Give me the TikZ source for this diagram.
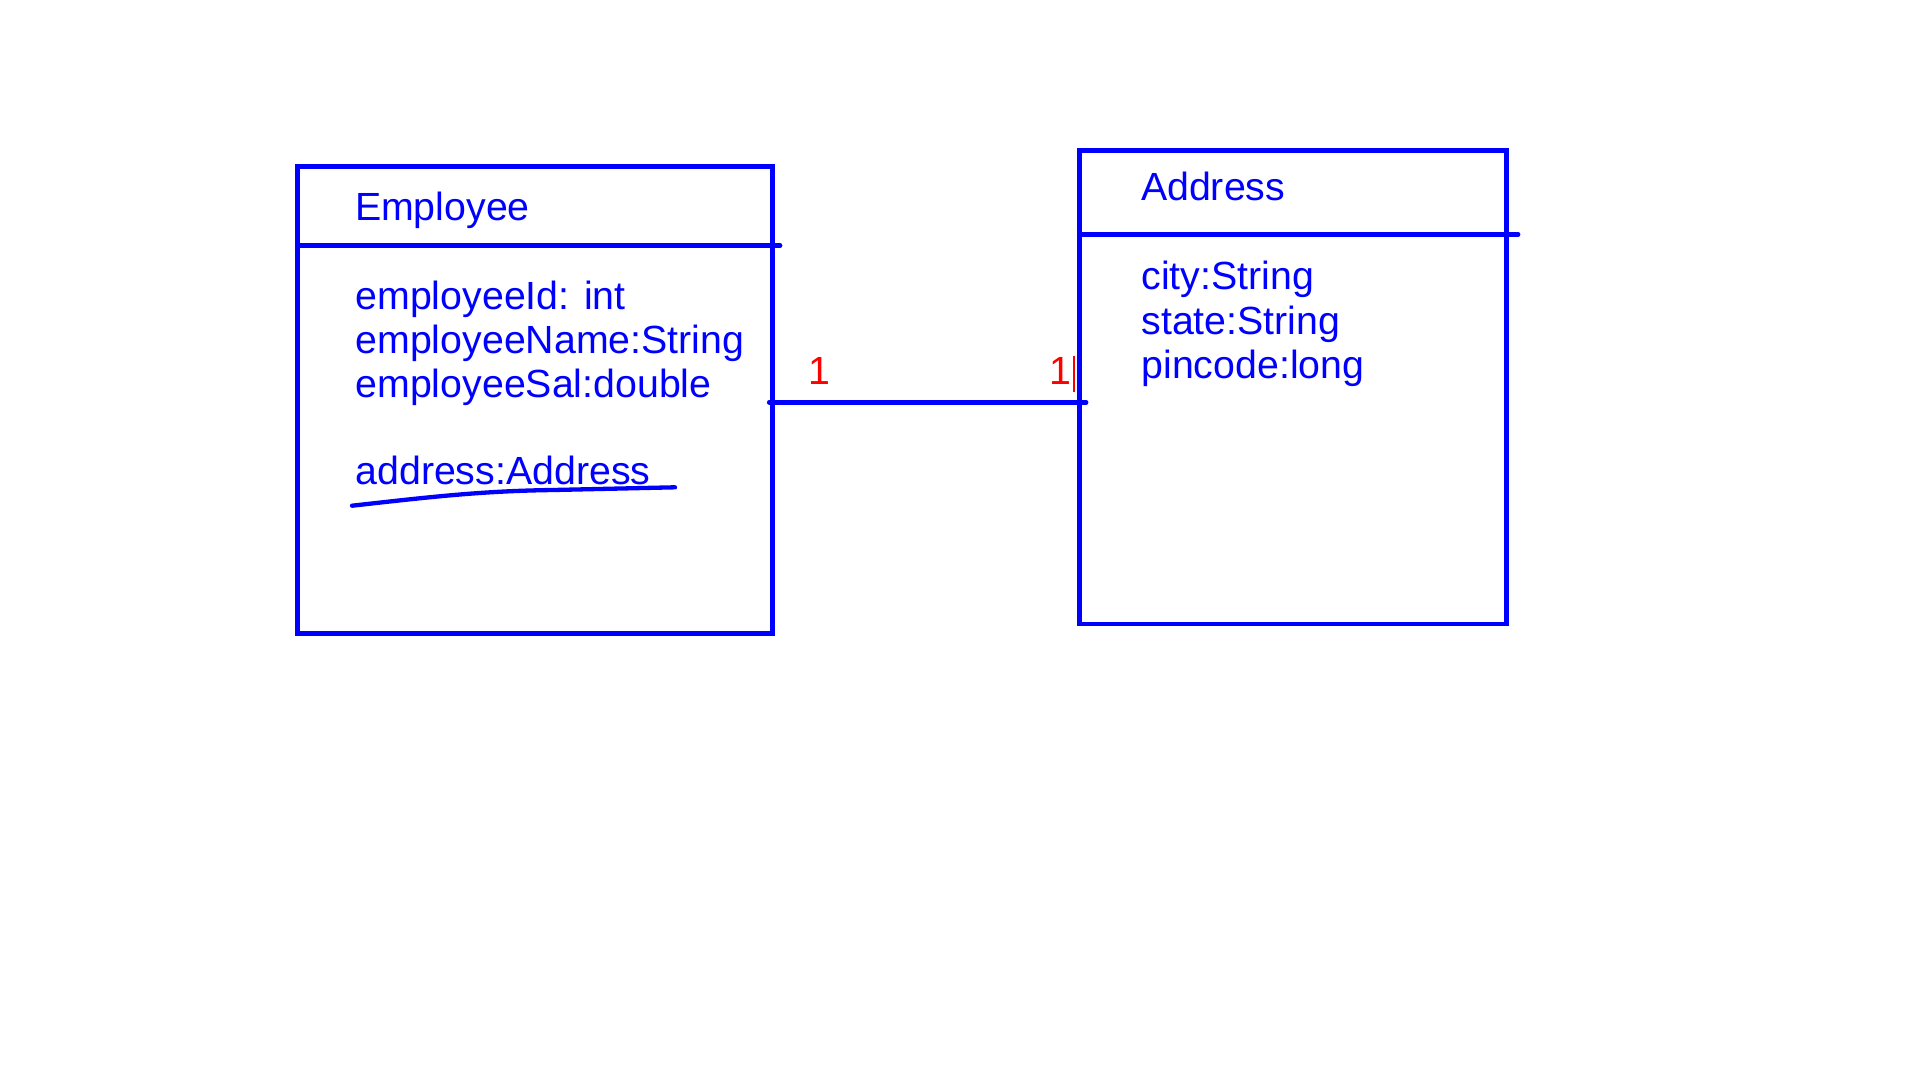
\documentclass[tikz,border=0pt]{standalone}
\usepackage{fontspec}
\setmainfont{Liberation Sans}
\definecolor{umlblue}{RGB}{0,0,255}
\definecolor{umlred}{RGB}{255,0,0}
\begin{document}
\begin{tikzpicture}[x=1pt,y=-1pt,
  classbox/.style={draw=umlblue,line width=4.8pt,rectangle,inner sep=0pt,outer sep=0pt},
  divider/.style={draw=umlblue,line width=4.8pt,line cap=round},
  conn/.style={draw=umlblue,line width=4.8pt,line cap=round},
  txt/.style={anchor=base west,inner sep=0pt,outer sep=0pt,text=umlblue,font=\fontsize{39.3}{44}\selectfont},
  mult/.style={anchor=base west,inner sep=0pt,outer sep=0pt,text=umlred,font=\fontsize{39.3}{44}\selectfont}]
\useasboundingbox[fill=white] (0,0) rectangle (1920,1080);
% class boxes
\node[classbox,minimum width=475.2pt,minimum height=466.6pt] (emp) at (535.1,400) {};
\node[classbox,minimum width=427.4pt,minimum height=473.3pt] (addr) at (1293,387.35) {};
% dividers
\coordinate (ed) at (780,245.7);
\coordinate (ad) at (1518,234.3);
\draw[divider] (emp.west |- ed) -- (ed);
\draw[divider] (addr.west |- ad) -- (ad);
% texts of Employee
\node[txt] (empname) at (355,220) {Employee};
\node[txt] (ea1) at (355.5,309) {employeeId: int};
\node[txt] (ea2) at (355.5,353) {employeeName:String};
\node[txt] (ea3) at (355.5,397) {employeeSal:double};
\node[txt] (ea4) at (355.5,484.5) {address:Address};
\coordinate (u1) at (352,505.7);
\coordinate (u2) at (675,487.3);
\draw[umlblue,line width=4.3pt,line cap=round] (u1) .. controls (430,497) and (480,491) .. (553,490) -- (u2);
% texts of Address
\node[txt] (addrname) at (1141,200.7) {Address};
\node[txt] (aa1) at (1141.5,289.5) {city:String};
\node[txt] (aa2) at (1141.5,334) {state:String};
\node[txt] (aa3) at (1141.5,378) {pincode:long};
% association
\coordinate (cy) at (0,402.3);
\draw[conn] ([xshift=-3.4pt]emp.east |- cy) -- ([xshift=6.7pt]addr.west |- cy);
\node[mult] (m1) at (808,384) {1};
\node[mult] (m2) at (1049.5,384) {1};
\coordinate (r1) at (1074,356);
\coordinate (r2) at (1074,391.7);
\draw[umlred,line width=2.2pt] (r1) -- (r2);
\end{tikzpicture}
\end{document}
